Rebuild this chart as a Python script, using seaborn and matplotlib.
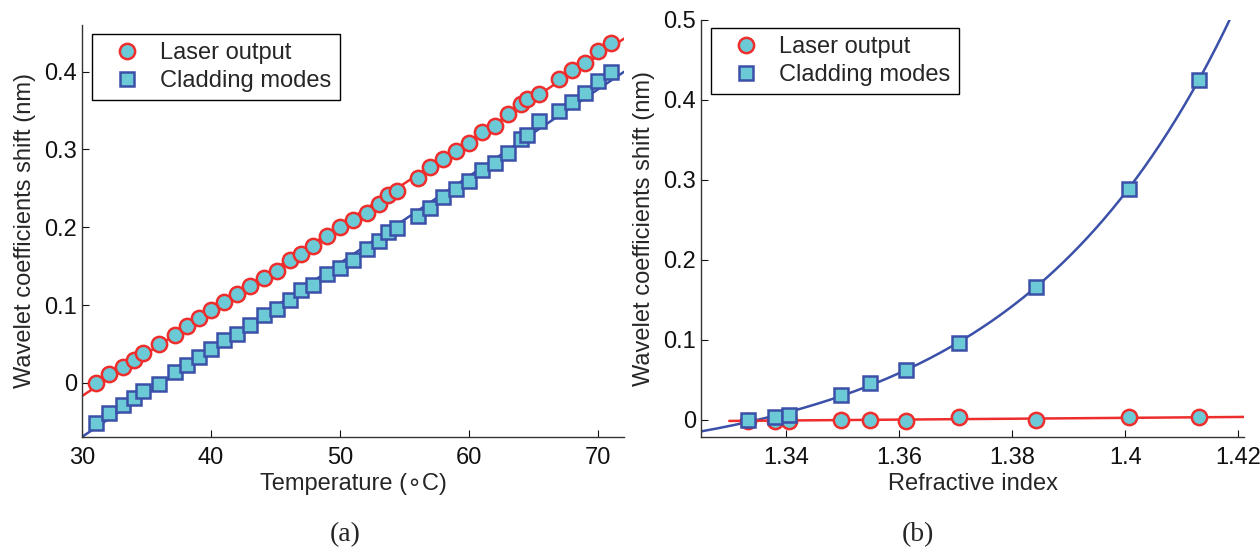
import numpy as np
import pandas as pd
import seaborn as sns
import matplotlib
matplotlib.use("Agg")
import matplotlib.pyplot as plt
from matplotlib.lines import Line2D

# (a) temperature sweep
temp = [31.1, 32.1, 33.2, 34.0, 34.7, 36.0, 37.2, 38.1, 39.1, 40.0, 41.0, 42.0, 43.0, 44.1,
        45.1, 46.1, 47.0, 47.9, 49.0, 50.0, 51.0, 52.1, 53.0, 53.7, 54.4, 56.0, 57.0, 58.0,
        59.0, 60.0, 61.0, 62.0, 63.0, 64.0, 64.5, 65.4, 67.0, 68.0, 69.0, 70.0, 71.0]
laser_t = [0.000, 0.012, 0.021, 0.029, 0.038, 0.050, 0.062, 0.073, 0.083, 0.094, 0.104, 0.114,
           0.124, 0.135, 0.144, 0.158, 0.166, 0.176, 0.189, 0.200, 0.210, 0.219, 0.230, 0.241,
           0.247, 0.263, 0.277, 0.288, 0.298, 0.308, 0.322, 0.330, 0.345, 0.358, 0.365, 0.371,
           0.391, 0.402, 0.411, 0.427, 0.437]
clad_t = [-0.051, -0.039, -0.028, -0.019, -0.010, -0.001, 0.014, 0.023, 0.033, 0.043, 0.055,
          0.063, 0.074, 0.087, 0.095, 0.106, 0.119, 0.126, 0.140, 0.148, 0.158, 0.172, 0.182,
          0.194, 0.199, 0.214, 0.225, 0.239, 0.249, 0.260, 0.274, 0.283, 0.296, 0.313, 0.318,
          0.336, 0.350, 0.361, 0.372, 0.388, 0.400]

# (b) refractive index sweep
ri = [1.3333, 1.3380, 1.3406, 1.3497, 1.3549, 1.3612, 1.3707, 1.3842, 1.4006, 1.4130]
laser_n = [-0.001, -0.001, -0.001, 0.000, 0.000, -0.002, 0.004, 0.000, 0.003, 0.003]
clad_n = [0.000, 0.0035, 0.0057, 0.031, 0.046, 0.062, 0.0965, 0.166, 0.289, 0.425]

face = "#6ccad6"
red = "#ee2d2d"
blue = "#3b50a8"

sns.set_style("ticks")
plt.rcParams["font.family"] = ["Liberation Sans", "DejaVu Sans"]
plt.rcParams["font.size"] = 17

W, H = 1260, 556
fig = plt.figure(figsize=(12.6, 5.56), dpi=100)
# axes boxes in pixels: left, top, right, bottom
ax1 = fig.add_axes([82 / W, 1 - 437 / H, (624 - 82) / W, (437 - 25) / H])
ax2 = fig.add_axes([701 / W, 1 - 437 / H, (1244 - 701) / W, (437 - 20) / H])


def style_axis(ax):
    sns.despine(ax=ax)
    for s in ["left", "bottom"]:
        ax.spines[s].set_color("#333333")
        ax.spines[s].set_linewidth(1.0)
    ax.tick_params(direction="in", length=5, width=0.8, labelsize=17, colors="#111111")
    ax.tick_params(axis="x", pad=7)
    ax.set_facecolor("none")


def add_legend(ax, anchor):
    handles = [
        Line2D([], [], ls="none", marker="o", ms=11, mfc=face, mec=red, mew=1.8),
        Line2D([], [], ls="none", marker="s", ms=9.5, mfc=face, mec=blue, mew=1.8),
    ]
    leg = ax.legend(handles, ["Laser output", "Cladding modes"], loc="upper left",
                    bbox_to_anchor=anchor, borderaxespad=0, fancybox=False, framealpha=1,
                    edgecolor="black", fontsize=17, handletextpad=0.25,
                    borderpad=0.35, labelspacing=0.25, handlelength=2.3)
    leg.get_frame().set_linewidth(1.0)


# panel (a)
df_a = pd.DataFrame({"T": temp, "laser": laser_t, "clad": clad_t})
xa = np.linspace(30, 72, 100)
pl = np.polyfit(df_a["T"], df_a["laser"], 1)
pc = np.polyfit(df_a["T"], df_a["clad"], 1)
sns.lineplot(x=xa, y=np.polyval(pl, xa), ax=ax1, color=red, lw=1.8)
sns.lineplot(x=xa, y=np.polyval(pc, xa), ax=ax1, color=blue, lw=1.8)
ax1.plot(df_a["T"], df_a["laser"], ls="none", marker="o", ms=11, mfc=face, mec=red, mew=1.8)
ax1.plot(df_a["T"], df_a["clad"], ls="none", marker="s", ms=9.5, mfc=face, mec=blue, mew=1.8)
ax1.set_xlim(30, 72)
ax1.set_ylim(-0.0695, 0.46)
ax1.set_xticks([30, 40, 50, 60, 70])
ax1.set_yticks([0, 0.1, 0.2, 0.3, 0.4])
ax1.set_yticklabels(["0", "0.1", "0.2", "0.3", "0.4"])
ax1.set_xlabel("Temperature (\u2218C)", labelpad=3)
ax1.set_ylabel("Wavelet coefficients shift (nm)", labelpad=6)
style_axis(ax1)
add_legend(ax1, ((92 - 82) / 542, (437 - 34) / 412))

# panel (b)
df_b = pd.DataFrame({"n": ri, "laser": laser_n, "clad": clad_n})
x = df_b["n"].to_numpy()
y = df_b["clad"].to_numpy()
best = None
for b in np.linspace(10, 50, 401):
    M = np.column_stack([np.exp(b * (x - x[0])), np.ones_like(x)])
    coef, res, *_ = np.linalg.lstsq(M, y, rcond=None)
    err = np.sum((M @ coef - y) ** 2)
    if best is None or err < best[0]:
        best = (err, b, coef)
_, bb, cc = best
xb = np.linspace(1.325, 1.4195, 200)
yb = cc[0] * np.exp(bb * (xb - x[0])) + cc[1]
xr = np.linspace(1.330, 1.421, 50)
pr = np.polyfit(x, df_b["laser"], 1)
sns.lineplot(x=xb, y=yb, ax=ax2, color=blue, lw=1.8)
sns.lineplot(x=xr, y=np.polyval(pr, xr), ax=ax2, color=red, lw=1.8)
ax2.plot(x, df_b["laser"], ls="none", marker="o", ms=11, mfc=face, mec=red, mew=1.8)
ax2.plot(x, y, ls="none", marker="s", ms=9.5, mfc=face, mec=blue, mew=1.8)
ax2.set_xlim(1.325, 1.421)
ax2.set_ylim(-0.0215, 0.5)
ax2.set_xticks([1.34, 1.36, 1.38, 1.40, 1.42])
ax2.set_xticklabels(["1.34", "1.36", "1.38", "1.4", "1.42"])
ax2.set_yticks([0, 0.1, 0.2, 0.3, 0.4, 0.5])
ax2.set_yticklabels(["0", "0.1", "0.2", "0.3", "0.4", "0.5"])
ax2.set_xlabel("Refractive index", labelpad=3)
ax2.set_ylabel("Wavelet coefficients shift (nm)", labelpad=6)
style_axis(ax2)
add_legend(ax2, ((711 - 701) / 543, (437 - 28) / 417))

fig.text(345 / W, 1 - 535 / H, "(a)", ha="center", va="center",
         family=["Liberation Serif", "DejaVu Serif"], fontsize=20)
fig.text(918 / W, 1 - 535 / H, "(b)", ha="center", va="center",
         family=["Liberation Serif", "DejaVu Serif"], fontsize=20)

fig.savefig("out.png", dpi=100)
